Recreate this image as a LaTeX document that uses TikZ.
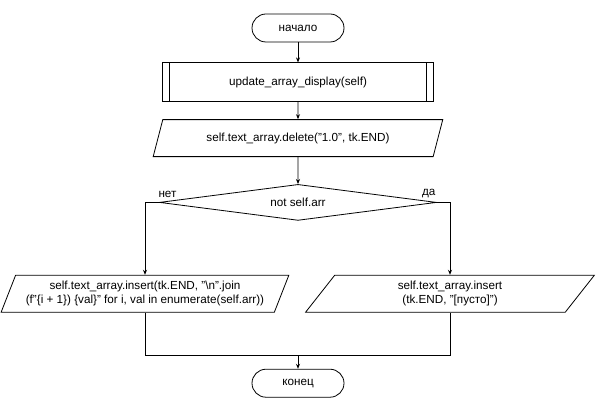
\documentclass[tikz,border=0pt]{standalone}
\usepackage{fontspec}
\setmainfont{Liberation Sans}
\usetikzlibrary{positioning,shapes.geometric,arrows.meta}

\tikzstyle{term} = [draw, rounded corners=14pt, minimum width=92pt, minimum height=28pt]
\tikzstyle{sub} = [draw, minimum width=271pt, minimum height=39pt,
    path picture={
        \draw ([xshift=7pt]path picture bounding box.north west) -- ([xshift=7pt]path picture bounding box.south west);
        \draw ([xshift=-7pt]path picture bounding box.north east) -- ([xshift=-7pt]path picture bounding box.south east);
    }]
\tikzstyle{io} = [draw, trapezium, trapezium left angle=63, trapezium right angle=117,
    trapezium stretches=true, minimum width=290pt, minimum height=37pt, align=center, inner sep=1pt]
\tikzstyle{dec} = [draw, diamond, aspect=7.7, inner sep=0pt, minimum width=277pt, minimum height=36pt]
\tikzstyle{lbl} = [inner sep=1pt]
\tikzstyle{flow} = [draw, -{Stealth[length=5pt,width=4pt]}]

\begin{document}
\begin{tikzpicture}[line width=0.8pt, font=\fontsize{11.7}{13.5}\selectfont]
\useasboundingbox (0,0) rectangle (598pt,-403pt);
%begin
\node[term] (start) at (298pt,-28pt) {начало};
\node[sub, below=20pt of start] (upd) {update\_array\_display(self)};
\node[io, below=17pt of upd] (del) {self.text\_array.delete("1.0", tk.END)};
%condition
\node[dec, below=27pt of del] (cond) {not self.arr};
\node[lbl, anchor=south west] (no) at ([xshift=-2pt,yshift=3pt]cond.west) {нет};
\node[lbl, anchor=south east] (yes) at ([yshift=3pt]cond.east) {да};
%branches
\node[io, below=54pt of cond, xshift=-153pt, minimum width=288pt] (insL)
    {self.text\_array.insert(tk.END, "\textbackslash n".join\\(f"\{i + 1\}) \{val\}" for i, val in enumerate(self.arr))};
\node[io, below=54pt of cond, xshift=152pt, minimum width=289pt] (insR)
    {self.text\_array.insert\\(tk.END, "[пусто]")};
%end
\node[term, below=148pt of cond] (stop) {конец};
\coordinate[above=13pt of stop] (mrg);

\draw[flow] (start) -- (upd);
\draw[flow] (upd) -- (del);
\draw[flow] (del) -- (cond);
\draw[flow] (cond.west) -| (insL);
\draw[flow] (cond.east) -| (insR);
\draw (insL) |- (mrg) -| (insR);
\draw[flow] (mrg) -- (stop);
\end{tikzpicture}
\end{document}
